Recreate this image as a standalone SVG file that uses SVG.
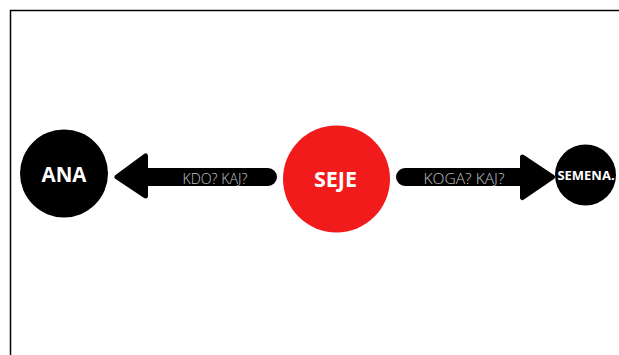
<svg xmlns="http://www.w3.org/2000/svg" width="619" height="355" viewBox="0 0 619 355">
<style>
.node{fill:#000}
.lbl{font-family:"Open Sans","Liberation Sans",sans-serif;font-weight:700;fill:#fff;text-anchor:middle}
.edge{fill:#000;stroke:#000;stroke-width:5;stroke-linejoin:round}
.elbl{font-family:"Open Sans","Liberation Sans",sans-serif;font-weight:300;fill:#c4c4c4;font-size:14.5px;text-anchor:middle}
</style>
<rect x="0" y="0" width="619" height="355" fill="#fff"/>
<rect x="10.5" y="10.5" width="620" height="360" fill="none" stroke="#000" stroke-width="1.5"/>
<g id="connectors">
<g id="edge-seje-ana">
<path class="edge" d="M117,177 L145.5,156 L145.5,170.5 L268,170.5 A6.5,6.5 0 0 1 268,183.5 L145.5,183.5 L145.5,196 Z"/>
<text class="elbl" x="215" y="184" textLength="65" lengthAdjust="spacingAndGlyphs">KDO? KAJ?</text>
</g>
<g id="edge-seje-semena">
<path class="edge" d="M405,170.5 L522.5,170.5 L522.5,157 L552.5,177 L522.5,197.5 L522.5,183.5 L405,183.5 A6.5,6.5 0 0 1 405,170.5 Z"/>
<text class="elbl" x="464" y="184" textLength="81" lengthAdjust="spacingAndGlyphs">KOGA? KAJ?</text>
</g>
</g>
<g id="node-ana">
<circle class="node" cx="64" cy="173.5" r="44"/>
<text class="lbl" x="64" y="181.5" font-size="20.5">ANA</text>
</g>
<g id="node-seje">
<circle cx="336.5" cy="179" r="53.5" fill="#f21b1b"/>
<text class="lbl" x="335.5" y="186.5" font-size="21.5">SEJE</text>
</g>
<g id="node-semena">
<circle class="node" cx="585.5" cy="175" r="30.5"/>
<text class="lbl" x="586" y="179.5" font-size="13">SEMENA.</text>
</g>
</svg>
